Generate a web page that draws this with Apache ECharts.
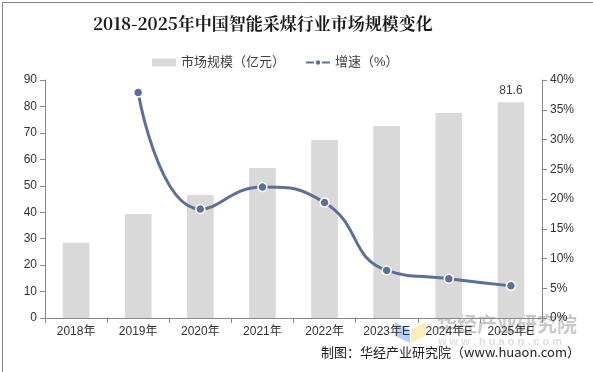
<!DOCTYPE html>
<html><head><meta charset="utf-8">
<script src="https://cdn.jsdelivr.net/npm/echarts@6/dist/echarts.min.js"></script>
<style>html,body{margin:0;padding:0;background:#fff}#c{width:593px;height:372px}</style>
</head><body><div id="c"></div>
<script>
var categories = ['2018年','2019年','2020年','2021年','2022年','2023年E','2024年E','2025年E'];
var marketSize = [28.5, 39.3, 46.5, 56.7, 67.3, 72.6, 77.5, 81.6];
var growth = [null, 37.9, 18.3, 22.0, 19.4, 8.0, 6.6, 5.4];
var leftTicks = {min:0, max:90, interval:10};
var rightTicks = {min:0, max:40, interval:5};

var chart = echarts.init(document.getElementById('c'), null, {renderer:'canvas'});
var font = '"Liberation Sans", Arial, "Noto Sans CJK SC", sans-serif';
chart.setOption({
  animation:false,
  textStyle:{fontFamily:font},
  title:{text:'2018-2025年中国智能采煤行业市场规模变化', left:88, top:10,
    textStyle:{fontSize:17, fontWeight:'bold', color:'#1a1a1a', fontFamily:'"Noto Serif CJK SC","Noto Sans CJK SC",serif'}},
  legend:{top:51, left:147, itemGap:20, itemWidth:24, itemHeight:8,
    textStyle:{fontSize:13, color:'#404040', fontFamily:font},
    data:[{name:'市场规模（亿元）', icon:'rect'}, {name:'增速（%）'}]},
  grid:{left:45, right:51, top:80, bottom:54},
  xAxis:{type:'category', data:categories,
    axisLine:{lineStyle:{color:'#888'}}, axisTick:{show:true, alignWithLabel:false, lineStyle:{color:'#888'}},
    axisLabel:{color:'#333', fontSize:12, margin:8}},
  yAxis:[
    {type:'value', min:leftTicks.min, max:leftTicks.max, interval:leftTicks.interval,
     axisLine:{show:true, lineStyle:{color:'#888'}}, axisTick:{show:true, lineStyle:{color:'#888'}},
     splitLine:{show:false}, axisLabel:{color:'#333', fontSize:12}},
    {type:'value', min:rightTicks.min, max:rightTicks.max, interval:rightTicks.interval,
     axisLine:{show:true, lineStyle:{color:'#888'}}, axisTick:{show:true, lineStyle:{color:'#888'}},
     splitLine:{show:false}, axisLabel:{color:'#333', fontSize:12, formatter:'{value}%'}}
  ],
  series:[
    {name:'市场规模（亿元）', type:'bar', data:marketSize.map(function(v,i){
        return i===marketSize.length-1 ? {value:v, label:{show:true, position:'top', color:'#404040', fontSize:12, distance:6}} : v;}),
     barWidth:'43%', itemStyle:{color:'#d9d9d9'}},
    {name:'增速（%）', type:'line', yAxisIndex:1, data:growth, smooth:0.5, connectNulls:false,
     symbol:'circle', symbolSize:9,
     lineStyle:{color:'#5b6f9a', width:3},
     itemStyle:{color:'#5b6f9a', borderColor:'#fff', borderWidth:1.5}}
  ],
  graphic:[
    {type:'rect', left:0, top:0, shape:{width:592, height:371}, style:{fill:'none', stroke:'#888', lineWidth:1}, silent:true},
    {type:'polygon', shape:{points:[[395,322],[410,330],[410,343],[395,336]]}, style:{fill:'rgba(120,170,240,0.55)'}, silent:true},
    {type:'polygon', shape:{points:[[411,330],[425,322],[425,336],[411,343]]}, style:{fill:'rgba(250,225,140,0.6)'}, silent:true},
    {type:'text', left:437, top:314, style:{text:'华经产业研究院', fill:'rgba(165,165,165,0.6)', font:'bold 20px "Noto Sans CJK SC", sans-serif'}, silent:true},
    {type:'text', left:438, top:336, style:{text:'w w w . h u a o n . c o m', fill:'rgba(180,180,180,0.45)', font:'bold 11px "Liberation Sans", sans-serif'}, silent:true},
    {type:'text', right:13, top:346, style:{text:'制图：华经产业研究院（www.huaon.com）', fill:'#222', font:'13px "Noto Sans CJK SC", sans-serif'}}
  ]
});
</script></body></html>
